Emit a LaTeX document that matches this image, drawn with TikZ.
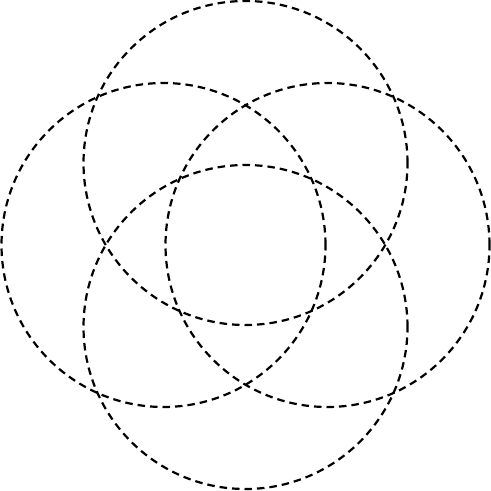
\documentclass[tikz,border=0pt]{standalone}
\begin{document}
\begin{tikzpicture}[x=1pt,y=1pt,
  ring/.style={draw=black,line width=2.2pt,dash pattern=on 7.5pt off 5pt}]
\useasboundingbox (0,0) rectangle (491,491);
\coordinate (ct) at (245.5,328);
\coordinate (cl) at (163.5,246);
\coordinate (cr) at (327.5,246);
\coordinate (cb) at (245.5,164);
\draw[ring] (ct) circle[radius=162];
\draw[ring] (cl) circle[radius=162];
\draw[ring] (cr) circle[radius=162];
\draw[ring] (cb) circle[radius=162];
\end{tikzpicture}
\end{document}
